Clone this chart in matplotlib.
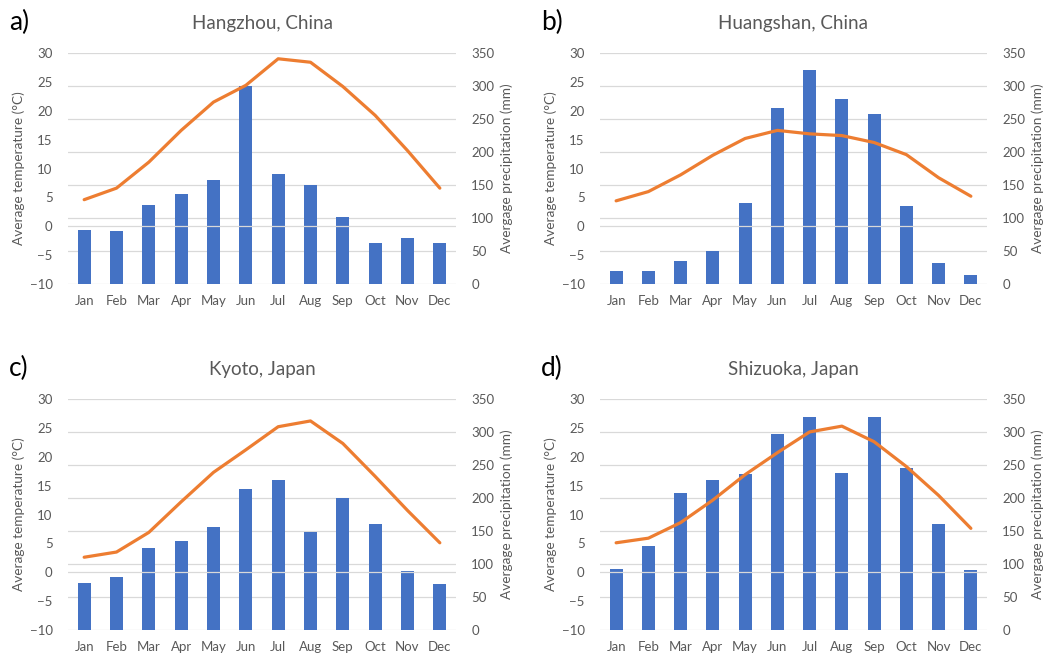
import matplotlib
matplotlib.use('Agg')
import matplotlib.pyplot as plt
import numpy as np

plt.rcParams['font.family'] = ['Lato', 'DejaVu Sans']

MONTHS = ['Jan', 'Feb', 'Mar', 'Apr', 'May', 'Jun', 'Jul', 'Aug', 'Sep', 'Oct', 'Nov', 'Dec']

hangzhou_temp = [4.6, 6.6, 11.1, 16.6, 21.5, 24.4, 29.0, 28.4, 24.2, 19.2, 13.1, 6.6]
hangzhou_prec = [82, 80, 120, 136, 158, 300, 167, 150, 101, 62, 70, 62]

huangshan_temp = [4.4, 6.0, 8.9, 12.3, 15.2, 16.6, 16.0, 15.7, 14.5, 12.4, 8.4, 5.2]
huangshan_prec = [19, 19, 35, 50, 123, 266, 325, 280, 258, 118, 32, 13]

kyoto_temp = [2.6, 3.5, 6.9, 12.2, 17.3, 21.2, 25.2, 26.2, 22.3, 16.6, 10.7, 5.1]
kyoto_prec = [71, 81, 124, 135, 156, 213, 228, 148, 200, 160, 90, 70]

shizuoka_temp = [5.1, 5.9, 8.6, 12.5, 16.9, 20.7, 24.3, 25.3, 22.6, 18.3, 13.3, 7.6]
shizuoka_prec = [93, 127, 207, 227, 237, 297, 323, 238, 323, 246, 160, 91]

PANELS = [
    ('a)', 'Hangzhou, China', hangzhou_temp, hangzhou_prec),
    ('b)', 'Huangshan, China', huangshan_temp, huangshan_prec),
    ('c)', 'Kyoto, Japan', kyoto_temp, kyoto_prec),
    ('d)', 'Shizuoka, Japan', shizuoka_temp, shizuoka_prec),
]

W, H = 1045, 655
BAR_C = '#4472C4'
LINE_C = '#ED7D31'
GRID_C = '#D9D9D9'
TXT_C = '#595959'

# plot-area boxes in pixels: left, top, right, bottom
BOXES = [
    (68, 53, 456, 284),
    (600, 53, 987, 284),
    (68, 399, 456, 630),
    (600, 399, 987, 630),
]


def draw_panel(fig, box, tag, title, temp, prec):
    l, t, r, b = box
    ax = fig.add_axes([l / W, 1 - b / H, (r - l) / W, (b - t) / H])
    axr = ax.twinx()
    x = np.arange(len(MONTHS))

    axr.bar(x, prec, width=0.41, color=BAR_C, zorder=2)
    axr.set_ylim(0, 350)
    axr.set_yticks(np.arange(0, 351, 50))
    axr.grid(axis='y', color=GRID_C, linewidth=0.9)
    axr.set_axisbelow(True)

    # temperature axis on top so the line sits over the bars
    ax.set_zorder(axr.get_zorder() + 1)
    ax.patch.set_visible(False)
    ax.axhline(0, color=GRID_C, linewidth=0.9, zorder=1)
    ax.plot(x, temp, color=LINE_C, linewidth=2.3, zorder=3, solid_capstyle='round')
    ax.set_ylim(-10, 30)
    ax.set_yticks(np.arange(-10, 31, 5))
    ax.set_xlim(-0.5, 11.5)
    ax.set_xticks(x)
    ax.set_xticklabels(MONTHS)

    for a in (ax, axr):
        for s in a.spines.values():
            s.set_visible(False)
        a.tick_params(length=0, labelsize=9.5, labelcolor=TXT_C)
    ax.tick_params(axis='y', pad=11)
    ax.tick_params(axis='x', pad=8)
    axr.tick_params(axis='y', pad=11)

    ax.set_ylabel('Average temperature (°C)', fontsize=9.8, color=TXT_C)
    axr.set_ylabel('Avergage precipitation (mm)', fontsize=9.8, color=TXT_C)
    ax.yaxis.set_label_coords(-0.11, 0.5)
    axr.yaxis.set_label_coords(1.115, 0.5)

    cx = (l + r) / 2 / W
    fig.text(cx, 1 - (t - 30) / H, title, ha='center', va='center', fontsize=13.5, color=TXT_C)
    fig.text((l - 59) / W, 1 - (t - 31) / H, tag, ha='left', va='center', fontsize=19, color='black')


def main():
    fig = plt.figure(figsize=(W / 100, H / 100), dpi=100)
    for box, (tag, title, temp, prec) in zip(BOXES, PANELS):
        draw_panel(fig, box, tag, title, temp, prec)
    fig.savefig('out.png', dpi=100, facecolor='white')


if __name__ == '__main__':
    main()
